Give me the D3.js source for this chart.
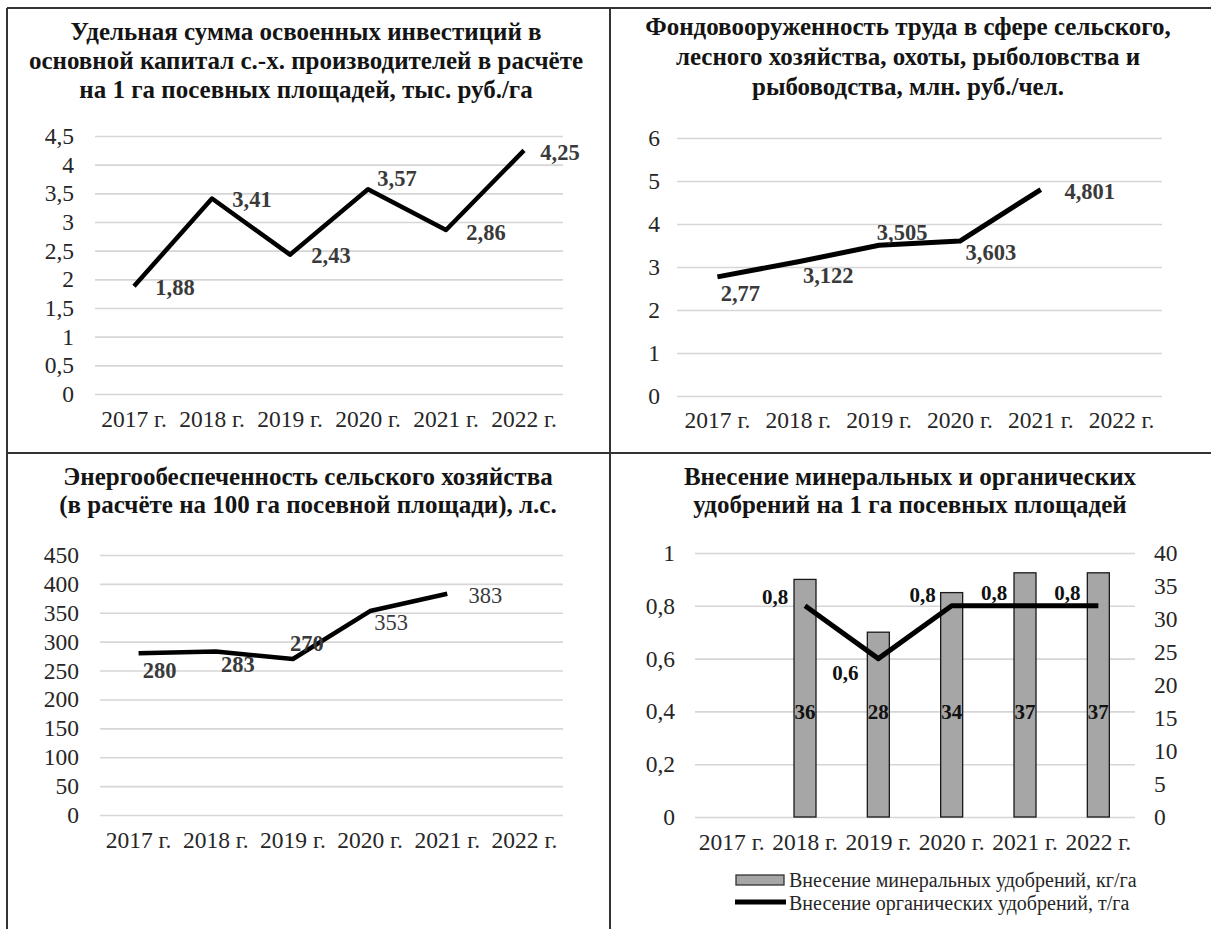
<!DOCTYPE html>
<html>
<head>
  <meta charset="utf-8">
  <title>Сельское хозяйство 2017-2022</title>
  <script src="https://d3js.org/d3.v7.min.js"></script>
  <style>
    body {
      margin: 0;
      background: #ffffff;
    }

    svg text {
      font-family: "Liberation Serif", "DejaVu Serif", serif;
    }

    .grid line {
      stroke: #d6d6d6;
      stroke-width: 1.6px;
    }

    .tick text {
      font-size: 23.5px;
      fill: #262626;
    }

    .title {
      font-weight: bold;
      font-size: 25px;
      fill: #141414;
      text-anchor: middle;
    }

    .data-label {
      font-weight: bold;
      font-size: 22.5px;
      fill: #3a3a3a;
      text-anchor: middle;
    }

    .legend-text {
      font-size: 20px;
      fill: #262626;
    }
  </style>
</head>

<body>
  <script>
    // ---------- DATA -------------------------------------------------------
    const years = ["2017 г.", "2018 г.", "2019 г.", "2020 г.", "2021 г.", "2022 г."];

    // panel 1: тыс. руб./га
    const investPerHa = [1.88, 3.41, 2.43, 3.57, 2.86, 4.25];
    const ticksInvest = [0, 0.5, 1, 1.5, 2, 2.5, 3, 3.5, 4, 4.5];

    // panel 2: млн. руб./чел.
    const capitalPerWorker = [2.77, 3.122, 3.505, 3.603, 4.801, null];
    const ticksCapital = [0, 1, 2, 3, 4, 5, 6];

    // panel 3: л.с. на 100 га
    const powerPer100Ha = [280, 283, 270, 353, 383, null];
    const ticksPower = [0, 50, 100, 150, 200, 250, 300, 350, 400, 450];

    // panel 4: удобрения
    const mineralFert = [null, 36, 28, 34, 37, 37];     // кг/га, правая ось
    const organicFert = [null, 0.8, 0.6, 0.8, 0.8, 0.8]; // т/га, левая ось
    const ticksOrganic = [0, 0.2, 0.4, 0.6, 0.8, 1];
    const ticksMineral = [0, 5, 10, 15, 20, 25, 30, 35, 40];

    const legendMineral = "Внесение минеральных удобрений, кг/га";
    const legendOrganic = "Внесение органических удобрений, т/га";

    const titles = [
      ["Удельная сумма освоенных инвестиций в",
        "основной капитал с.-х. производителей в расчёте",
        "на 1 га посевных площадей, тыс. руб./га"],
      ["Фондовооруженность труда в сфере сельского,",
        "лесного хозяйства, охоты, рыболовства и",
        "рыбоводства, млн. руб./чел."],
      ["Энергообеспеченность сельского хозяйства",
        "(в расчёте на 100 га посевной площади), л.с."],
      ["Внесение минеральных и органических",
        "удобрений на 1 га посевных площадей"]
    ];

    const comma = v => String(v).replace(".", ",");

    // ---------- PAGE -------------------------------------------------------
    const W = 1211, H = 929;
    const svg = d3.select("body").append("svg")
      .attr("width", W)
      .attr("height", H);

    svg.append("rect").attr("width", W).attr("height", H).attr("fill", "#fff");

    // table borders
    const border = svg.append("g")
      .attr("stroke", "#333")
      .attr("stroke-width", 2);
    border.append("line").attr("x1", 7).attr("x2", W).attr("y1", 8).attr("y2", 8);
    border.append("line").attr("x1", 7).attr("x2", W).attr("y1", 453).attr("y2", 453);
    border.append("line").attr("x1", 7).attr("x2", 7).attr("y1", 8).attr("y2", H);
    border.append("line").attr("x1", 610).attr("x2", 610).attr("y1", 8).attr("y2", H);

    function drawTitle(lines, cx, baselines) {
      lines.forEach((t, i) => {
        svg.append("text")
          .attr("class", "title")
          .attr("x", cx)
          .attr("y", baselines[i])
          .text(t);
      });
    }

    function yGrid(g, scale, ticks, x0, x1, pad, fmt) {
      g.attr("class", "grid")
        .attr("transform", `translate(${x0},0)`)
        .call(d3.axisLeft(scale).tickValues(ticks).tickSize(-(x1 - x0)).tickPadding(pad).tickFormat(fmt))
        .call(a => a.select(".domain").remove());
    }

    function xLabels(g, scale, y0, pad) {
      g.attr("transform", `translate(0,${y0})`)
        .call(d3.axisBottom(scale).tickSize(0).tickPadding(pad))
        .call(a => a.select(".domain").remove());
    }

    // ---------- LINE PANELS ------------------------------------------------
    function linePanel(cfg) {
      const x = d3.scaleBand().domain(years).range([cfg.x0, cfg.x1]);
      const y = d3.scaleLinear().domain(cfg.domain).range([cfg.yBottom, cfg.yTop]);
      const cx = d => x(d) + x.bandwidth() / 2;

      yGrid(svg.append("g"), y, cfg.ticks, cfg.x0, cfg.x1, cfg.yPad, comma);
      xLabels(svg.append("g"), x, cfg.yBottom, cfg.xPad);

      const pts = cfg.values.map((v, i) => ({ year: years[i], v, i }));

      svg.append("path")
        .datum(pts)
        .attr("fill", "none")
        .attr("stroke", "#000")
        .attr("stroke-width", cfg.lw)
        .attr("stroke-linejoin", "round")
        .attr("d", d3.line()
          .defined(d => d.v != null)
          .x(d => cx(d.year))
          .y(d => y(d.v)));

      svg.selectAll(null)
        .data(pts.filter(d => d.v != null))
        .join("text")
        .attr("class", "data-label")
        .attr("x", d => cx(d.year) + cfg.labelOff[d.i][0])
        .attr("y", d => y(d.v) + cfg.labelOff[d.i][1])
        .attr("dy", "0.35em")
        .style("font-weight", d => cfg.labelWeight ? cfg.labelWeight[d.i] : "bold")
        .text(d => comma(d.v));
    }

    drawTitle(titles[0], 306, [40, 69, 98]);
    linePanel({
      values: investPerHa, ticks: ticksInvest, domain: [0, 4.5],
      x0: 95, x1: 563, yBottom: 394, yTop: 136, yPad: 21, xPad: 16, lw: 4.5,
      labelOff: [[41, 1], [40, 1], [41, 0], [29, -11], [40, 2], [36, 2]]
    });

    drawTitle(titles[1], 908, [35, 65, 95]);
    linePanel({
      values: capitalPerWorker, ticks: ticksCapital, domain: [0, 6],
      x0: 677, x1: 1162, yBottom: 396, yTop: 138, yPad: 17, xPad: 15, lw: 5,
      labelOff: [[23, 16], [30, 13], [23, -13], [31, 11], [49, 2]]
    });

    drawTitle(titles[2], 308, [485, 513]);
    linePanel({
      values: powerPer100Ha, ticks: ticksPower, domain: [0, 450],
      x0: 100, x1: 563, yBottom: 815, yTop: 555, yPad: 21, xPad: 16, lw: 4.5,
      labelOff: [[21, 17], [22, 13], [14, -16], [21, 11], [38, 1]],
      labelWeight: ["bold", "bold", "bold", "normal", "normal"]
    });

    // ---------- COMBO PANEL (bars + line, two axes) ------------------------
    drawTitle(titles[3], 910, [485, 513]);
    {
      const x0 = 695, x1 = 1135, yBottom = 817, yTop = 553;
      const x = d3.scaleBand().domain(years).range([x0, x1]);
      const yL = d3.scaleLinear().domain([0, 1]).range([yBottom, yTop]);
      const yR = d3.scaleLinear().domain([0, 40]).range([yBottom, yTop]);
      const cx = d => x(d) + x.bandwidth() / 2;
      const barW = x.bandwidth() * 0.3;

      yGrid(svg.append("g"), yL, ticksOrganic, x0, x1, 20, comma);
      svg.append("g")
        .attr("transform", `translate(${x1},0)`)
        .call(d3.axisRight(yR).tickValues(ticksMineral).tickSize(0).tickPadding(19))
        .call(a => a.select(".domain").remove());
      xLabels(svg.append("g"), x, yBottom, 16);

      const bars = mineralFert.map((v, i) => ({ year: years[i], v })).filter(d => d.v != null);
      svg.selectAll(null)
        .data(bars)
        .join("rect")
        .attr("x", d => cx(d.year) - barW / 2)
        .attr("y", d => yR(d.v))
        .attr("width", barW)
        .attr("height", d => yBottom - yR(d.v))
        .attr("fill", "#a6a6a6")
        .attr("stroke", "#1a1a1a")
        .attr("stroke-width", 1.3);

      svg.selectAll(null)
        .data(bars)
        .join("text")
        .attr("class", "data-label")
        .attr("x", d => cx(d.year))
        .attr("y", yL(0.4))
        .attr("dy", "0.35em")
        .style("fill", "#111")
        .style("font-size", "21px")
        .text(d => d.v);

      const pts = organicFert.map((v, i) => ({ year: years[i], v, i }));
      svg.append("path")
        .datum(pts)
        .attr("fill", "none")
        .attr("stroke", "#000")
        .attr("stroke-width", 5)
        .attr("stroke-linejoin", "round")
        .attr("d", d3.line()
          .defined(d => d.v != null)
          .x(d => cx(d.year))
          .y(d => yL(d.v)));

      const off = [null, [-30, -9], [-33, 14], [-29, -11], [-31, -13], [-31, -13]];
      svg.selectAll(null)
        .data(pts.filter(d => d.v != null))
        .join("text")
        .attr("class", "data-label")
        .attr("x", d => cx(d.year) + off[d.i][0])
        .attr("y", d => yL(d.v) + off[d.i][1])
        .attr("dy", "0.35em")
        .style("fill", "#111")
        .style("font-size", "21px")
        .text(d => comma(d.v));

      // legend
      const lg = svg.append("g");
      lg.append("rect")
        .attr("x", 736).attr("y", 875).attr("width", 48).attr("height", 10)
        .attr("fill", "#a6a6a6").attr("stroke", "#333").attr("stroke-width", 1.3);
      lg.append("text").attr("class", "legend-text")
        .attr("x", 789).attr("y", 880).attr("dy", "0.35em").text(legendMineral);
      lg.append("line")
        .attr("x1", 735).attr("x2", 786).attr("y1", 902).attr("y2", 902)
        .attr("stroke", "#000").attr("stroke-width", 5);
      lg.append("text").attr("class", "legend-text")
        .attr("x", 789).attr("y", 903).attr("dy", "0.35em").text(legendOrganic);
    }
  </script>
</body>
</html>
